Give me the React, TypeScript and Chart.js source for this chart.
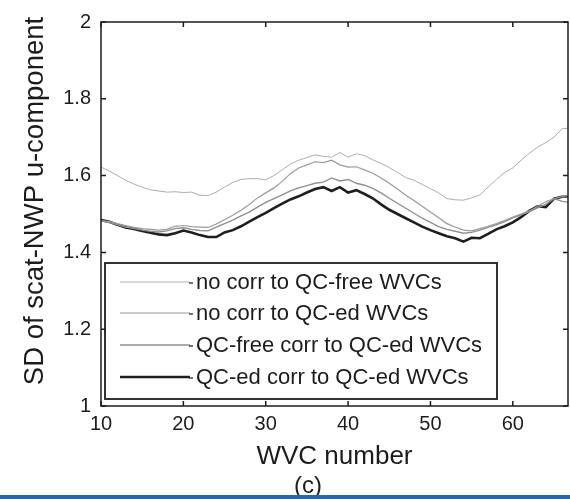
import React, { useEffect, useRef } from "react";
import { Chart, registerables } from "chart.js";

Chart.register(...registerables);

// WVC (wind vector cell) numbers across the swath
const wvcNumbers = [
  10, 11, 12, 13, 14, 15, 16, 17, 18, 19, 20, 21, 22, 23, 24, 25, 26, 27, 28, 29,
  30, 31, 32, 33, 34, 35, 36, 37, 38, 39, 40, 41, 42, 43, 44, 45, 46, 47, 48, 49,
  50, 51, 52, 53, 54, 55, 56, 57, 58, 59, 60, 61, 62, 63, 64, 65, 66, 67,
];

// SD of scat-NWP u-component per WVC
const noCorrQcFree = [
  1.622, 1.612, 1.6, 1.588, 1.578, 1.57, 1.563, 1.56, 1.557, 1.558, 1.556, 1.557, 1.549, 1.548, 1.557, 1.57, 1.582, 1.59, 1.592, 1.592,
  1.589, 1.6, 1.615, 1.63, 1.64, 1.647, 1.654, 1.65, 1.648, 1.66, 1.648, 1.657, 1.652, 1.641, 1.632, 1.621, 1.608, 1.595, 1.588, 1.577,
  1.566, 1.555, 1.54, 1.537, 1.536, 1.542, 1.55, 1.57, 1.59, 1.608, 1.62, 1.64, 1.658, 1.674, 1.686, 1.7, 1.722, 1.724,
];
const noCorrQcEd = [
  1.483, 1.48, 1.475, 1.47, 1.465, 1.462, 1.46, 1.458, 1.46, 1.468, 1.47, 1.467, 1.466, 1.465, 1.474, 1.485, 1.497, 1.51, 1.525, 1.542,
  1.555, 1.568, 1.585, 1.605, 1.62, 1.628, 1.636, 1.634, 1.64, 1.628, 1.622, 1.623, 1.615, 1.606, 1.594, 1.58, 1.565, 1.549, 1.535, 1.52,
  1.505, 1.49, 1.475, 1.466, 1.458, 1.456, 1.462, 1.468, 1.475, 1.483, 1.492, 1.5, 1.508, 1.52, 1.532, 1.54, 1.545, 1.544,
];
const qcFreeCorrQcEd = [
  1.482, 1.478, 1.472, 1.466, 1.462, 1.458, 1.455, 1.453, 1.456, 1.462, 1.464, 1.46, 1.457, 1.456, 1.466, 1.475, 1.484, 1.495, 1.505, 1.518,
  1.53, 1.54, 1.55, 1.56, 1.568, 1.574, 1.58, 1.583, 1.594, 1.586, 1.59, 1.58, 1.575, 1.567, 1.555, 1.541, 1.528, 1.515, 1.502, 1.489,
  1.478, 1.467, 1.46, 1.455, 1.45, 1.452, 1.458, 1.465, 1.472, 1.48, 1.49, 1.498, 1.506, 1.516, 1.525, 1.54, 1.533, 1.53,
];
const qcEdCorrQcEd = [
  1.484, 1.48, 1.472, 1.465, 1.461, 1.456, 1.451, 1.447, 1.445, 1.45, 1.457, 1.452, 1.445, 1.44, 1.44, 1.452, 1.458, 1.468, 1.48, 1.492,
  1.503, 1.515, 1.527, 1.538, 1.546, 1.556, 1.565, 1.57, 1.56, 1.57, 1.556, 1.562, 1.552, 1.541, 1.525, 1.511, 1.5, 1.489, 1.478, 1.467,
  1.458, 1.45, 1.442, 1.437, 1.428, 1.438, 1.437, 1.448, 1.46, 1.468, 1.478, 1.492, 1.508, 1.52, 1.518, 1.54, 1.545, 1.545,
];

const seriesLabels = [
  "no corr to QC-free WVCs",
  "no corr to QC-ed WVCs",
  "QC-free corr to QC-ed WVCs",
  "QC-ed corr to QC-ed WVCs",
];

const xTickValues = [10, 20, 30, 40, 50, 60];
const yTickValues = [1, 1.2, 1.4, 1.6, 1.8, 2];
const yTickLabels = ["1", "1.2", "1.4", "1.6", "1.8", "2"];

const xTitle = "WVC number";
const yTitle = "SD of scat-NWP u-component";
const panelTag = "(c)";

const FONT = "'Liberation Sans', Arial, Helvetica, sans-serif";
const INK = "#1c1c1c";

const toPoints = (ys: number[]) => ys.map((v, i) => ({ x: wvcNumbers[i], y: v }));

// Box, inward tick marks, titles, boxed legend and the blue footer strip
const decorations = {
  id: "decorations",
  beforeDraw(chart: any) {
    const { ctx, width, height } = chart;
    ctx.save();
    ctx.fillStyle = "#ffffff";
    ctx.fillRect(0, 0, width, height);
    ctx.restore();
  },
  afterDraw(chart: any) {
    const { ctx, chartArea, scales, width, height } = chart;
    const { left, top, right, bottom } = chartArea;
    const xs = scales.x;
    const ys = scales.y;
    ctx.save();

    // axes box
    ctx.strokeStyle = INK;
    ctx.lineWidth = 1.5;
    ctx.strokeRect(left, top, right - left, bottom - top);

    // inward ticks on all four sides
    const tl = 5;
    ctx.lineWidth = 1.5;
    ctx.beginPath();
    xs.ticks.forEach((t: any) => {
      const px = xs.getPixelForValue(t.value);
      ctx.moveTo(px, bottom);
      ctx.lineTo(px, bottom - tl);
      ctx.moveTo(px, top);
      ctx.lineTo(px, top + tl);
    });
    ys.ticks.forEach((t: any) => {
      const py = ys.getPixelForValue(t.value);
      ctx.moveTo(left, py);
      ctx.lineTo(left + tl, py);
      ctx.moveTo(right, py);
      ctx.lineTo(right - tl, py);
    });
    ctx.stroke();

    // legend
    const lgLeft = left + 4;
    const lgTop = 263;
    const lgRight = 497;
    const lgBottom = 399;
    ctx.fillStyle = "#ffffff";
    ctx.fillRect(lgLeft, lgTop, lgRight - lgLeft, lgBottom - lgTop);
    ctx.strokeStyle = INK;
    ctx.lineWidth = 1.8;
    ctx.strokeRect(lgLeft, lgTop, lgRight - lgLeft, lgBottom - lgTop);
    const rowY = [282, 313, 345, 377];
    ctx.font = `22px ${FONT}`;
    ctx.textAlign = "left";
    ctx.textBaseline = "middle";
    chart.data.datasets.forEach((ds: any, i: number) => {
      const yy = rowY[i];
      ctx.strokeStyle = ds.borderColor;
      ctx.lineWidth = ds.borderWidth;
      ctx.beginPath();
      ctx.moveTo(120, yy);
      ctx.lineTo(190, yy);
      ctx.stroke();
      ctx.strokeStyle = "#444";
      ctx.lineWidth = 1.5;
      ctx.beginPath();
      ctx.moveTo(189, yy + 1);
      ctx.lineTo(193, yy + 1);
      ctx.stroke();
      ctx.fillStyle = INK;
      ctx.fillText(ds.label, 196, yy + 1);
    });

    // axis titles
    ctx.fillStyle = INK;
    ctx.textAlign = "center";
    ctx.textBaseline = "alphabetic";
    ctx.font = `26px ${FONT}`;
    ctx.fillText(xTitle, (left + right) / 2, 464);

    ctx.save();
    ctx.translate(43, 201);
    ctx.rotate(-Math.PI / 2);
    ctx.font = `27.5px ${FONT}`;
    ctx.fillText(yTitle, 0, 0);
    ctx.restore();

    ctx.font = `24px ${FONT}`;
    ctx.fillText(panelTag, 308, 493);

    // footer strip
    ctx.fillStyle = "#2a64a6";
    ctx.fillRect(0, height - 4, width, 4);

    ctx.restore();
  },
};

export default function App() {
  const canvasRef = useRef<HTMLCanvasElement | null>(null);

  useEffect(() => {
    const canvas = canvasRef.current;
    if (!canvas) return;
    const styles = [
      { color: "#adadad", width: 1 },
      { color: "#9a9a9a", width: 1.2 },
      { color: "#8f8f8f", width: 1.4 },
      { color: "#1e1e1e", width: 2.6 },
    ];
    const seriesData = [noCorrQcFree, noCorrQcEd, qcFreeCorrQcEd, qcEdCorrQcEd];
    const chart = new Chart(canvas, {
      type: "line",
      data: {
        datasets: seriesData.map((d, i) => ({
          label: seriesLabels[i],
          data: toPoints(d),
          borderColor: styles[i].color,
          borderWidth: styles[i].width,
          pointRadius: 0,
          tension: 0,
          fill: false,
        })),
      },
      options: {
        animation: false,
        responsive: false,
        maintainAspectRatio: false,
        devicePixelRatio: 1,
        layout: { padding: { left: 0, top: 22, right: 2, bottom: 0 } },
        plugins: {
          legend: { display: false },
          tooltip: { enabled: false },
          title: { display: false },
        },
        scales: {
          x: {
            type: "linear",
            min: 10,
            max: 66.7,
            grid: { display: false, drawTicks: false },
            border: { display: false },
            afterBuildTicks: (s: any) => {
              s.ticks = xTickValues.map((v) => ({ value: v }));
            },
            afterFit: (s: any) => {
              s.height = 93;
            },
            ticks: {
              padding: 6,
              maxRotation: 0,
              autoSkip: false,
              color: INK,
              font: { family: FONT, size: 20 },
              callback: (v: any) => String(v),
            },
          },
          y: {
            type: "linear",
            min: 1,
            max: 2,
            grid: { display: false, drawTicks: false },
            border: { display: false },
            afterBuildTicks: (s: any) => {
              s.ticks = yTickValues.map((v) => ({ value: v }));
            },
            afterFit: (s: any) => {
              s.width = 101;
            },
            ticks: {
              padding: 10,
              autoSkip: false,
              color: INK,
              font: { family: FONT, size: 20 },
              callback: (v: any) => {
                const idx = yTickValues.findIndex((t) => Math.abs(t - v) < 1e-9);
                return idx >= 0 ? yTickLabels[idx] : "";
              },
            },
          },
        },
      },
      plugins: [decorations],
    });
    return () => chart.destroy();
  }, []);

  return (
    <div style={{ position: "absolute", left: 0, top: 0, width: 570, height: 499, background: "#fff" }}>
      <canvas ref={canvasRef} width={570} height={499} style={{ display: "block", width: 570, height: 499 }} />
    </div>
  );
}
